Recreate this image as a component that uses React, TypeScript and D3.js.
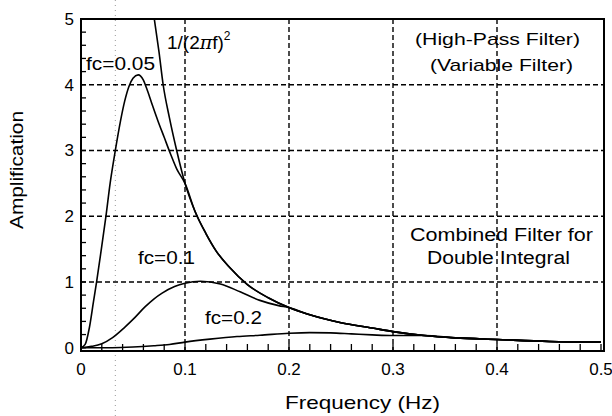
import React from "react";
import * as d3 from "d3";

// ---- data ----
const xTicks = [0, 0.1, 0.2, 0.3, 0.4, 0.5];
const xTickLabels = ["0", "0.1", "0.2", "0.3", "0.4", "0.5"];
const yTicks = [0, 1, 2, 3, 4, 5];
const yTickLabels = ["0", "1", "2", "3", "4", "5"];

// 1/(2πf)^2 curve
const invF = [0.0705, 0.075, 0.079, 0.085, 0.092, 0.1, 0.11, 0.12, 0.13, 0.143, 0.16, 0.18, 0.2, 0.22, 0.25, 0.28, 0.3, 0.33, 0.36, 0.4, 0.45, 0.5];
const invA = [5.0, 4.5, 4.0, 3.5, 3.0, 2.5, 2.06, 1.74, 1.47, 1.22, 0.96, 0.76, 0.61, 0.5, 0.38, 0.3, 0.245, 0.185, 0.15, 0.125, 0.095, 0.085];

// fc = 0.05 (rising part, then merges with 1/(2πf)^2)
const fc05F = [0, 0.004, 0.008, 0.012, 0.015, 0.02, 0.024, 0.028, 0.033, 0.038, 0.042, 0.046, 0.05, 0.055, 0.06, 0.063, 0.068, 0.074, 0.08, 0.086, 0.092, 0.1];
const fc05A = [0, 0.05, 0.3, 0.7, 1.0, 1.55, 2.0, 2.5, 3.0, 3.45, 3.75, 3.97, 4.1, 4.15, 4.07, 3.95, 3.72, 3.45, 3.2, 2.95, 2.72, 2.5];

// fc = 0.1
const fc10F = [0, 0.01, 0.02, 0.03, 0.042, 0.05, 0.0615, 0.07, 0.078, 0.09, 0.1, 0.115, 0.134, 0.153, 0.172, 0.19, 0.2];
const fc10A = [0, 0.02, 0.06, 0.15, 0.31, 0.43, 0.62, 0.74, 0.83, 0.93, 0.98, 1.01, 0.97, 0.85, 0.72, 0.64, 0.61];

// fc = 0.2
const fc20F = [0, 0.03, 0.05, 0.07, 0.085, 0.1, 0.124, 0.15, 0.172, 0.2, 0.22, 0.24, 0.26, 0.28, 0.3, 0.33];
const fc20A = [0, 0.0, 0.01, 0.03, 0.05, 0.085, 0.13, 0.17, 0.19, 0.22, 0.23, 0.225, 0.21, 0.195, 0.185, 0.185];

const FONT = "'Liberation Sans', Arial, sans-serif";

type Pt = [number, number];
const zip = (f: number[], a: number[]): Pt[] => f.map((v, i) => [v, a[i]] as Pt);
const tail = (from: number): Pt[] => zip(invF, invA).filter((p) => p[0] > from);

export default function App() {
  const W = 612, H = 416;
  const x = d3.scaleLinear().domain([0, 0.5]).range([81, 601]);
  const y = d3.scaleLinear().domain([-0.05, 5]).range([351, 19]);
  const left = 81, right = 604, top = 19, bottom = 351;

  const line = d3
    .line<Pt>()
    .x((d) => x(d[0]))
    .y((d) => y(d[1]))
    .curve(d3.curveMonotoneX);

  const series: Pt[][] = [
    zip(invF, invA),
    [...zip(fc05F, fc05A), ...tail(0.1)],
    [...zip(fc10F, fc10A), ...tail(0.2)],
    [...zip(fc20F, fc20A), ...tail(0.33)],
  ];

  const xMinor = d3.range(0, 51, 2).map((v) => v / 100);
  const yMinor = d3.range(0, 26).map((v) => v / 5);

  return (
    <svg width={W} height={H} style={{ position: "absolute", left: 0, top: 0, background: "#fff" }}>
      <rect x={0} y={0} width={W} height={H} fill="#fff" />
      {/* faint scan artifact dotted line */}
      <line x1={x(0.033)} x2={x(0.033)} y1={0} y2={H} stroke="#999" strokeWidth={1} strokeDasharray="1,4" />

      {/* grid */}
      {xTicks.slice(1, -1).map((t) => (
        <line key={"gx" + t} x1={x(t)} x2={x(t)} y1={top} y2={bottom} stroke="#000" strokeWidth={1.4} strokeDasharray="5,3" />
      ))}
      {yTicks.slice(1, -1).map((t) => (
        <line key={"gy" + t} x1={left} x2={right} y1={y(t)} y2={y(t)} stroke="#000" strokeWidth={1.4} strokeDasharray="5,3" />
      ))}

      {/* minor ticks */}
      {xMinor.map((t) => (
        <line key={"mx" + t} x1={x(t)} x2={x(t)} y1={bottom} y2={bottom - 7} stroke="#000" strokeWidth={1.3} />
      ))}
      {yMinor.map((t) => (
        <line key={"my" + t} x1={left} x2={left + 5} y1={y(t)} y2={y(t)} stroke="#000" strokeWidth={1.3} />
      ))}

      {/* curves */}
      {series.map((s, i) => (
        <path key={"s" + i} d={line(s) || ""} fill="none" stroke="#000" strokeWidth={1.6} />
      ))}

      {/* frame */}
      <rect x={left} y={top} width={right - left} height={bottom - top} fill="none" stroke="#000" strokeWidth={2} />

      {/* tick labels */}
      {xTicks.map((t, i) => (
        <text key={"xt" + t} x={x(t)} y={375} fontFamily={FONT} fontSize={17} textAnchor="middle">
          {xTickLabels[i]}
        </text>
      ))}
      {yTicks.map((t, i) => (
        <text key={"yt" + t} x={74} y={y(t) + 6} fontFamily={FONT} fontSize={17} textAnchor="end">
          {yTickLabels[i]}
        </text>
      ))}

      {/* axis titles */}
      <text x={285} y={409} fontFamily={FONT} fontSize={19} textLength={155} lengthAdjust="spacingAndGlyphs">
        Frequency (Hz)
      </text>
      <text transform="translate(23,229) rotate(-90)" fontFamily={FONT} fontSize={18} textLength={118} lengthAdjust="spacingAndGlyphs">
        Amplification
      </text>

      {/* annotations */}
      <text x={86} y={70} fontFamily={FONT} fontSize={18} textLength={69} lengthAdjust="spacingAndGlyphs">fc=0.05</text>
      <text x={138} y={264} fontFamily={FONT} fontSize={18} textLength={57} lengthAdjust="spacingAndGlyphs">fc=0.1</text>
      <text x={205} y={324} fontFamily={FONT} fontSize={18} textLength={57} lengthAdjust="spacingAndGlyphs">fc=0.2</text>
      <text x={167} y={49} fontFamily={FONT} fontSize={19}>
        1/(2<tspan fontFamily="'DejaVu Serif', serif" fontStyle="italic">π</tspan>f)
        <tspan dy={-9} fontSize={12}>2</tspan>
      </text>
      <text x={415} y={45} fontFamily={FONT} fontSize={17} textLength={165} lengthAdjust="spacingAndGlyphs">(High-Pass Filter)</text>
      <text x={430} y={71} fontFamily={FONT} fontSize={17} textLength={143} lengthAdjust="spacingAndGlyphs">(Variable Filter)</text>
      <text x={410} y={241} fontFamily={FONT} fontSize={18} textLength={183} lengthAdjust="spacingAndGlyphs">Combined Filter for</text>
      <text x={427} y={264} fontFamily={FONT} fontSize={18} textLength={143} lengthAdjust="spacingAndGlyphs">Double Integral</text>
    </svg>
  );
}
